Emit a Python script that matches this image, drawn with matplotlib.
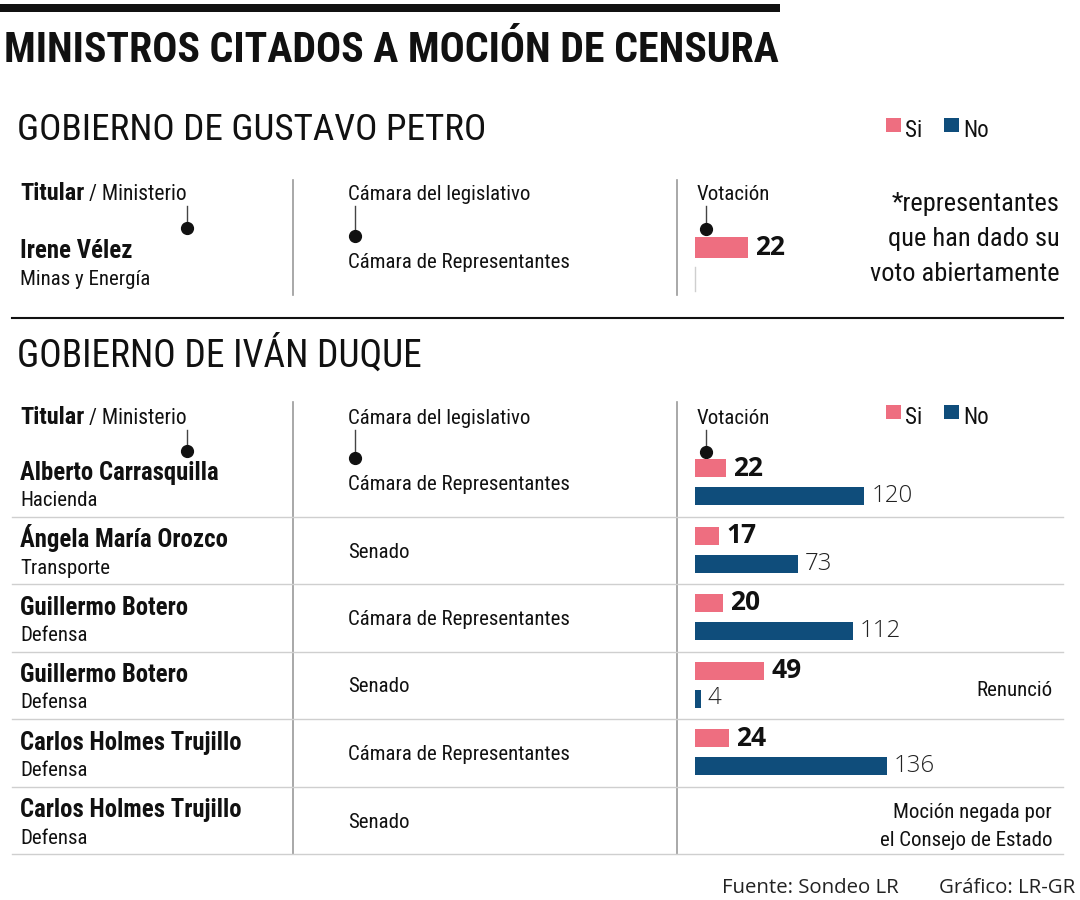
import matplotlib
matplotlib.use("Agg")
import matplotlib.pyplot as plt
from matplotlib import font_manager as fm
from matplotlib.patches import Rectangle

# ---------------- data ----------------
title = "MINISTROS CITADOS A MOCIÓN DE CENSURA"
petro_title = "GOBIERNO DE GUSTAVO PETRO"
duque_title = "GOBIERNO DE IVÁN DUQUE"

petro_names = ["Irene Vélez"]
petro_ministries = ["Minas y Energía"]
petro_chambers = ["Cámara de Representantes"]
petro_si = [22]
petro_note = ["*representantes", "que han dado su", "voto abiertamente"]

duque_names = ["Alberto Carrasquilla", "Ángela María Orozco", "Guillermo Botero",
               "Guillermo Botero", "Carlos Holmes Trujillo", "Carlos Holmes Trujillo"]
duque_ministries = ["Hacienda", "Transporte", "Defensa", "Defensa", "Defensa", "Defensa"]
duque_chambers = ["Cámara de Representantes", "Senado", "Cámara de Representantes",
                  "Senado", "Cámara de Representantes", "Senado"]
duque_si = [22, 17, 20, 49, 24, None]
duque_no = [120, 73, 112, 4, 136, None]
duque_notes = [[], [], [], ["Renunció"], [], ["Moción negada por", "el Consejo de Estado"]]

legend_labels = ["Si", "No"]
source = "Fuente: Sondeo LR"
credit = "Gráfico: LR-GR"

PINK = "#EE6E80"
NAVY = "#0F4D7B"
GRAY = "#9a9a9a"
LIGHT = "#cfcfcf"

# ---------------- fonts ----------------
avail = {f.name for f in fm.fontManager.ttflist}
COND_FAM, COND_STRETCH = "DejaVu Sans", "normal"
for cand in ["Roboto Condensed", "Liberation Sans Narrow", "Open Sans Condensed"]:
    if cand in avail:
        COND_FAM = cand
        break
else:
    if any(f.name == "DejaVu Sans" and "ondensed" in str(f.stretch) for f in fm.fontManager.ttflist):
        COND_STRETCH = "condensed"
NUM_FAM = "Open Sans" if "Open Sans" in avail else "DejaVu Sans"

fig = plt.figure(figsize=(10.8, 9), dpi=100)
ax = fig.add_axes([0, 0, 1, 1])
ax.set_xlim(0, 1080)
ax.set_ylim(900, 0)
ax.axis("off")
renderer = fig.canvas.get_renderer()


def T(x, y, s, size, weight="normal", ha="left", va="baseline", color="#111111",
      family=None):
    fam = family or COND_FAM
    kw = {}
    if family is None:
        kw["fontstretch"] = COND_STRETCH
    return ax.text(x, y, s, fontsize=size, fontweight=weight, ha=ha, va=va,
                   color=color, family=fam, **kw)


def connector(x, y0, y1):
    ax.plot([x, x], [y0, y1], color="#444444", lw=1)
    ax.plot([x], [y1], "o", color="#111111", ms=8.5)


def legend(y):
    ax.add_patch(Rectangle((886, y - 19), 15, 14, color=PINK, lw=0))
    T(905, y, legend_labels[0], 16.5)
    ax.add_patch(Rectangle((944, y - 19), 15, 14, color=NAVY, lw=0))
    T(963, y, legend_labels[1], 16.5)


def header(y, vline_top, vline_bot):
    t = T(20, y, "Titular", 17.5, "bold")
    bb = t.get_window_extent(renderer=renderer)
    T(bb.x1 + 5, y, "/ Ministerio", 15.5)
    T(348, y, "Cámara del legislativo", 15)
    T(697, y, "Votación", 15)
    for xv in (293, 677):
        ax.plot([xv, xv], [vline_top, vline_bot], color=GRAY, lw=1.2)


# ---------------- top ----------------
ax.add_patch(Rectangle((0, 4), 780, 8, color="#111111", lw=0))
T(4, 62, title, 30.2, "bold", color="#111111")

# ---------------- Petro ----------------
T(17, 140, petro_title, 26.8)
legend(137)
header(200, 180, 295)
connector(187, 206, 228)
connector(355, 206, 236)
connector(706, 206, 229)
for i, (n, m, c) in enumerate(zip(petro_names, petro_ministries, petro_chambers)):
    T(20, 258, n, 17.8, "bold")
    T(20, 285, m, 15)
    T(348, 268, c, 15)
ax.plot([695, 695], [267, 291], color=LIGHT, lw=1)
for k, line in enumerate(petro_note):
    T(1060, 211 + 35 * k, line, 19, ha="right")

pax = fig.add_axes([695 / 1080, 0, 385 / 1080, 1])
pax.set_xlim(0, 385 / 2.41)
pax.set_ylim(900, 0)
pax.axis("off")
pax.barh([247.5], petro_si, height=21, left=0, color=PINK)
for v in petro_si:
    pax.annotate(str(v), xy=(v, 247.5), xytext=(5, 0), textcoords="offset points",
                 ha="left", va="center", fontsize=19, fontweight="bold",
                 family=NUM_FAM, color="#111111")

ax.plot([12, 1063], [318, 318], color="#111111", lw=1.5)

# ---------------- Duque ----------------
T(17, 367, duque_title, 27)
legend(424)
header(424, 402, 854)
connector(187, 430, 451)
connector(355, 430, 458)
connector(706, 430, 452)

bax = fig.add_axes([695 / 1080, 0, 385 / 1080, 1])
bax.set_xlim(0, 385 / 1.41)
bax.set_ylim(900, 0)
bax.axis("off")

top0, pitch = 449, 67.5
si_y, no_y = [], []
si_v, no_v = [], []
for i in range(len(duque_names)):
    top = top0 + pitch * i
    T(20, top + 31, duque_names[i], 17.8, "bold")
    T(20, top + 57, duque_ministries[i], 15)
    T(348, top + 41, duque_chambers[i], 15)
    ax.plot([12, 1063], [top + pitch, top + pitch], color=LIGHT, lw=1)
    if duque_si[i] is not None:
        si_y.append(top + 19)
        si_v.append(duque_si[i])
    if duque_no[i] is not None:
        no_y.append(top + 47)
        no_v.append(duque_no[i])
    notes = duque_notes[i]
    if notes:
        base = top + (45 if len(notes) == 1 else 31)
        for k, line in enumerate(notes):
            T(1052, base + 28 * k, line, 15, ha="right")

bax.barh(si_y, si_v, height=18, left=0, color=PINK)
bax.barh(no_y, no_v, height=18, left=0, color=NAVY)
for y, v in zip(si_y, si_v):
    bax.annotate(str(v), xy=(v, y), xytext=(5, 0), textcoords="offset points",
                 ha="left", va="center", fontsize=19, fontweight="bold",
                 family=NUM_FAM, color="#111111")
for y, v in zip(no_y, no_v):
    bax.annotate(str(v), xy=(v, y), xytext=(5, 0), textcoords="offset points",
                 ha="left", va="center", fontsize=17.3, fontweight="light",
                 family=NUM_FAM, color="#222222")

# ---------------- footer ----------------
T(722, 893, source, 14.7, family=NUM_FAM, color="#222222")
T(1075, 893, credit, 14.7, ha="right", family=NUM_FAM, color="#222222")

fig.savefig("out.png", dpi=100)
